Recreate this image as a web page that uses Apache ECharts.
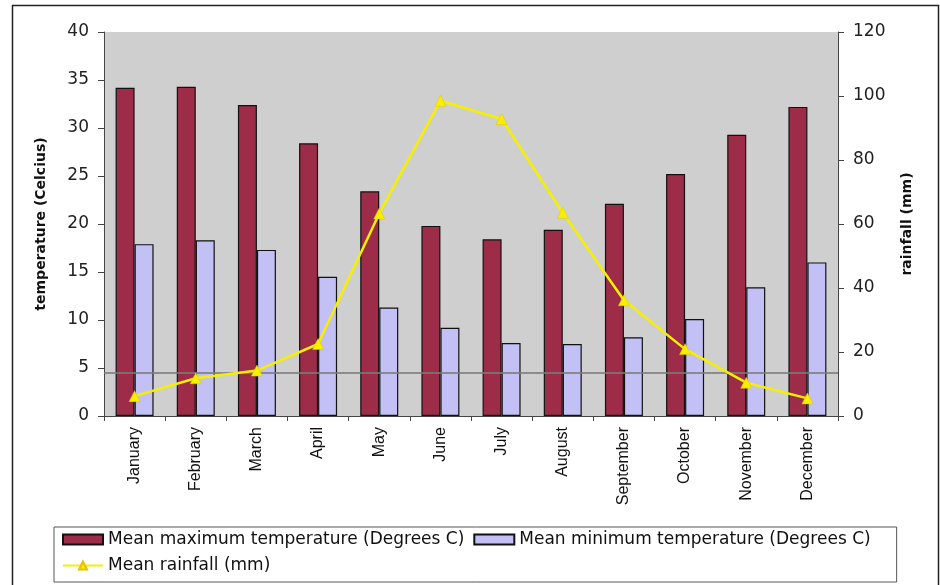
<!DOCTYPE html>
<html><head><meta charset="utf-8">
<script src="https://cdn.jsdelivr.net/npm/echarts@6/dist/echarts.min.js"></script>
<style>html,body{margin:0;padding:0;background:#fff}#c{width:940px;height:585px}</style>
</head><body><div id="c"></div>
<script>
const months = ['January','February','March','April','May','June','July','August','September','October','November','December'];
const maxTemp = [34.2, 34.3, 32.4, 28.4, 23.4, 19.8, 18.4, 19.4, 22.1, 25.2, 29.3, 32.2];
const minTemp = [17.9, 18.3, 17.3, 14.5, 11.3, 9.2, 7.6, 7.5, 8.2, 10.1, 13.4, 16.0];
const rainfall = [6.2, 11.8, 14.2, 22.5, 63.3, 98.5, 92.8, 63.5, 36.2, 20.9, 10.4, 5.5];
const refLine = 4.5;

const chart = echarts.init(document.getElementById('c'));
const font = 'Liberation Sans, Arial, sans-serif';
const wide = 'DejaVu Sans, sans-serif';
chart.setOption({
  animation: false,
  textStyle: {fontFamily: font},
  graphic: [{type:'rect', shape:{x:12.5,y:5.5,width:926,height:590}, style:{fill:null, stroke:'#222', lineWidth:1.5}, silent:true}],
  grid: {left:104, right:102, top:32, bottom:169, show:true, backgroundColor:'#cfcfcf', borderWidth:0},
  legend: {
    left:54, top:527, width:842, padding:[4,26,8,8], orient:'horizontal',
    borderColor:'#555', borderWidth:1, itemWidth:40, itemHeight:10, itemGap:9,
    textStyle:{fontSize:17, color:'#111', fontFamily:wide},
    data:[
      {name:'Mean maximum temperature (Degrees C)', icon:'rect'},
      {name:'Mean minimum temperature (Degrees C)', icon:'rect'},
      {name:'Mean rainfall (mm)'}
    ]
  },
  xAxis: {
    type:'category', data:months, boundaryGap:true,
    axisLine:{lineStyle:{color:'#444'}},
    axisTick:{show:true, length:5, lineStyle:{color:'#444'}},
    axisLabel:{rotate:90, fontSize:16, color:'#111', margin:11}
  },
  yAxis: [
    {type:'value', min:0, max:40, interval:5,
     name:'temperature (Celcius)', nameLocation:'middle', nameGap:56, nameRotate:90,
     nameTextStyle:{fontSize:14, fontWeight:'bold', color:'#111', fontFamily:wide},
     axisLine:{show:true, lineStyle:{color:'#444'}},
     axisTick:{show:true, length:6, lineStyle:{color:'#444'}},
     axisLabel:{fontSize:17, color:'#222', margin:15, fontFamily:wide},
     splitLine:{show:false}},
    {type:'value', min:0, max:120, interval:20,
     name:'rainfall (mm)', nameLocation:'middle', nameGap:62, nameRotate:90,
     nameTextStyle:{fontSize:14, fontWeight:'bold', color:'#111', fontFamily:wide},
     axisLine:{show:true, lineStyle:{color:'#444'}},
     axisTick:{show:true, length:6, lineStyle:{color:'#444'}},
     axisLabel:{fontSize:17, color:'#222', margin:15, fontFamily:wide},
     splitLine:{show:false}}
  ],
  series: [
    {name:'Mean maximum temperature (Degrees C)', type:'bar', data:maxTemp, yAxisIndex:0,
     barWidth:19, barGap:'0%',
     itemStyle:{color:'#9c2c48', borderColor:'#111', borderWidth:1.2},
     markLine:{silent:true, symbol:'none', label:{show:false},
       lineStyle:{color:'#7a7a7a', width:2, type:'solid', opacity:0.8},
       data:[{yAxis:refLine}]}},
    {name:'Mean minimum temperature (Degrees C)', type:'bar', data:minTemp, yAxisIndex:0,
     barWidth:19,
     itemStyle:{color:'#c2c0f4', borderColor:'#111', borderWidth:1.2}},
    {name:'Mean rainfall (mm)', type:'line', data:rainfall, yAxisIndex:1,
     symbol:'triangle', symbolSize:11,
     lineStyle:{color:'#f5f000', width:2.5},
     itemStyle:{color:'#f5f000', borderColor:'#e8c000', borderWidth:0.5},
     z:5}
  ]
});
</script></body></html>
